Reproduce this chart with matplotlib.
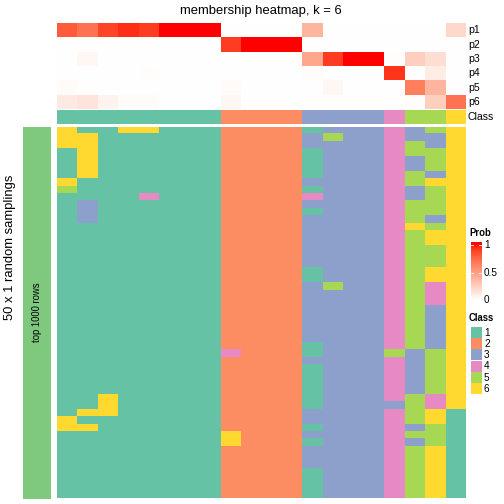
import numpy as np
import matplotlib
matplotlib.use("Agg")
import matplotlib.pyplot as plt
from matplotlib.colors import ListedColormap

plt.rcParams['font.family'] = ['Liberation Sans', 'DejaVu Sans']

# membership probabilities per consensus column (20 columns)
p1 = [0.80, 0.70, 0.88, 0.94, 0.90, 1, 1, 1, 0, 0, 0, 0, 0.38, 0, 0, 0, 0, 0, 0, 0.20]
p2 = [0, 0, 0, 0, 0, 0, 0, 0, 0.90, 1, 1, 1, 0, 0, 0, 0, 0, 0, 0, 0]
p3 = [0, 0.04, 0, 0, 0, 0, 0, 0, 0, 0, 0, 0, 0.45, 0.90, 1, 1, 0.01, 0.25, 0.17, 0]
p4 = [0, 0, 0, 0, 0.01, 0, 0, 0, 0, 0, 0, 0, 0.01, 0, 0, 0, 0.92, 0, 0.10, 0]
p5 = [0.02, 0, 0, 0, 0, 0, 0, 0, 0.02, 0, 0, 0, 0, 0.04, 0, 0, 0, 0.65, 0.38, 0]
p6 = [0.11, 0.14, 0.06, 0.02, 0.02, 0, 0, 0, 0.04, 0, 0, 0, 0, 0, 0, 0, 0, 0.01, 0.25, 0.70]
cls = [1, 1, 1, 1, 1, 1, 1, 1, 2, 2, 2, 2, 3, 3, 3, 3, 4, 5, 5, 6]
row_names = ['p1', 'p2', 'p3', 'p4', 'p5', 'p6']

# class of each column in each of the 50 random samplings
samplings = [
    "61166111222213334356",
    "66111111222235334336",
    "66111111222233334536",
    "16111111222213334556",
    "16111111222213334356",
    "16111111222213334356",
    "16111111222213334536",
    "61111111222233334566",
    "51111111222213334356",
    "11114111222243334356",
    "13111111222233334556",
    "13111111222213334556",
    "13111111222233334536",
    "11111111222233334656",
    "11111111222233334566",
    "11111111222233334566",
    "11111111222233334556",
    "11111111222233334556",
    "11111111222233334556",
    "11111111222213334566",
    "11111111222213334566",
    "11111111222235334546",
    "11111111222233334546",
    "11111111222233334546",
    "11111111222233334536",
    "11111111222233334536",
    "11111111222233334536",
    "11111111222233334536",
    "11111111222233334536",
    "11111111222213334536",
    "11111111422213335356",
    "11111111222233334356",
    "11111111222213334356",
    "11111111222213334356",
    "11111111222213334356",
    "11111111222213334356",
    "11611111222213334546",
    "11611111222213333546",
    "16611111222233334561",
    "61111111222233334561",
    "66111111222213334351",
    "11111111622233334551",
    "11111111622213334351",
    "11111111222233334561",
    "11111111222233334561",
    "11111111222233334561",
    "11111111222213334561",
    "11111111222213334561",
    "11111111222213334561",
    "11111111222213334561",
]

set2 = ['#66C2A5', '#FC8D62', '#8DA0CB', '#E78AC3', '#A6D854', '#FFD92F']
class_cmap = ListedColormap(set2)


# white -> red ramp interpolated in LAB space
def lab2rgb(L, a, b):
    fy = (L + 16) / 116
    fx = fy + a / 500
    fz = fy - b / 200
    f = lambda t: np.where(t > 6 / 29, t ** 3, 3 * (6 / 29) ** 2 * (t - 4 / 29))
    X, Y, Z = 0.95047 * f(fx), f(fy), 1.08883 * f(fz)
    r = 3.2406 * X - 1.5372 * Y - 0.4986 * Z
    g = -0.9689 * X + 1.8758 * Y + 0.0415 * Z
    bb = 0.0557 * X - 0.2040 * Y + 1.0570 * Z
    rgb = np.stack([r, g, bb], axis=-1).clip(0, 1)
    return np.where(rgb > 0.0031308, 1.055 * rgb ** (1 / 2.4) - 0.055, 12.92 * rgb).clip(0, 1)

t = np.linspace(0, 1, 256)
prob_cmap = ListedColormap(lab2rgb(100 - 46.77 * t, 80.1 * t, 67.2 * t))

W = H = 504
fig = plt.figure(figsize=(7, 7), dpi=72)


def ax_at(x0, y0, x1, y1):
    ax = fig.add_axes([x0 / W, 1 - y1 / H, (x1 - x0) / W, (y1 - y0) / H])
    ax.set_axis_off()
    return ax


def txt(x, y, s, **kw):
    fig.text(x / W, 1 - y / H, s, **kw)


X0, X1 = 56.7, 465

# probability rows
ax = ax_at(X0, 23.3, X1, 109.3)
ax.imshow(np.array([p1, p2, p3, p4, p5, p6]), cmap=prob_cmap, vmin=0, vmax=1,
          aspect='auto', interpolation='nearest')
for i, name in enumerate(row_names):
    txt(468, 23.3 + 14.33 * (i + 0.5), name, fontsize=10.5, va='center', ha='left')

# class annotation row
ax = ax_at(X0, 110.3, X1, 124)
ax.imshow(np.array([cls]), cmap=class_cmap, vmin=0.5, vmax=6.5,
          aspect='auto', interpolation='nearest')
txt(468, 117.2, 'Class', fontsize=10.5, va='center', ha='left')

# main heatmap of samplings
grid = np.array([[int(c) for c in row] for row in samplings])
ax = ax_at(X0, 126.7, X1, 498.5)
ax.imshow(grid, cmap=class_cmap, vmin=0.5, vmax=6.5,
          aspect='auto', interpolation='nearest')

# left row-group bar
ax = ax_at(22.7, 126.7, 50.7, 498.5)
ax.add_patch(plt.Rectangle((0, 0), 1, 1, color='#7FC97F'))
ax.set_xlim(0, 1)
ax.set_ylim(0, 1)
txt(37, 312, 'top 1000 rows', fontsize=9.5, rotation=90, va='center', ha='center')

txt(10, 247, '50 x 1 random samplings', fontsize=13, rotation=90, va='center', ha='center')
txt(261, 11, 'membership heatmap, k = 6', fontsize=13, va='center', ha='center')

# Prob legend
txt(469, 233, 'Prob', fontsize=9.5, fontweight='bold', va='center', ha='left')
ax = ax_at(470.5, 241.7, 481.5, 300)
ax.imshow(np.linspace(0, 1.06, 200)[:, None], origin='lower', cmap=prob_cmap,
          vmin=0, vmax=1, aspect='auto', extent=[0, 1, 0, 1.06])
ax.set_ylim(0, 1.06)
for v in (0.5, 1.0):
    ax.plot([0, 0.2], [v, v], color='white', lw=0.8)
    ax.plot([0.8, 1], [v, v], color='white', lw=0.8)
for v, y in ((1, 245), (0.5, 272.5), (0, 300)):
    txt(484, y, '%g' % v, fontsize=10, va='center', ha='left')

# Class legend
txt(469, 318, 'Class', fontsize=9.5, fontweight='bold', va='center', ha='left')
for i, c in enumerate(set2):
    y = 327 + 11.2 * i
    ax = ax_at(470.5, y, 481.5, y + 11)
    ax.add_patch(plt.Rectangle((0, 0), 1, 1, color=c))
    ax.set_xlim(0, 1)
    ax.set_ylim(0, 1)
    txt(484, y + 5.8, str(i + 1), fontsize=10, va='center', ha='left')

fig.savefig('out.png', dpi=72)
